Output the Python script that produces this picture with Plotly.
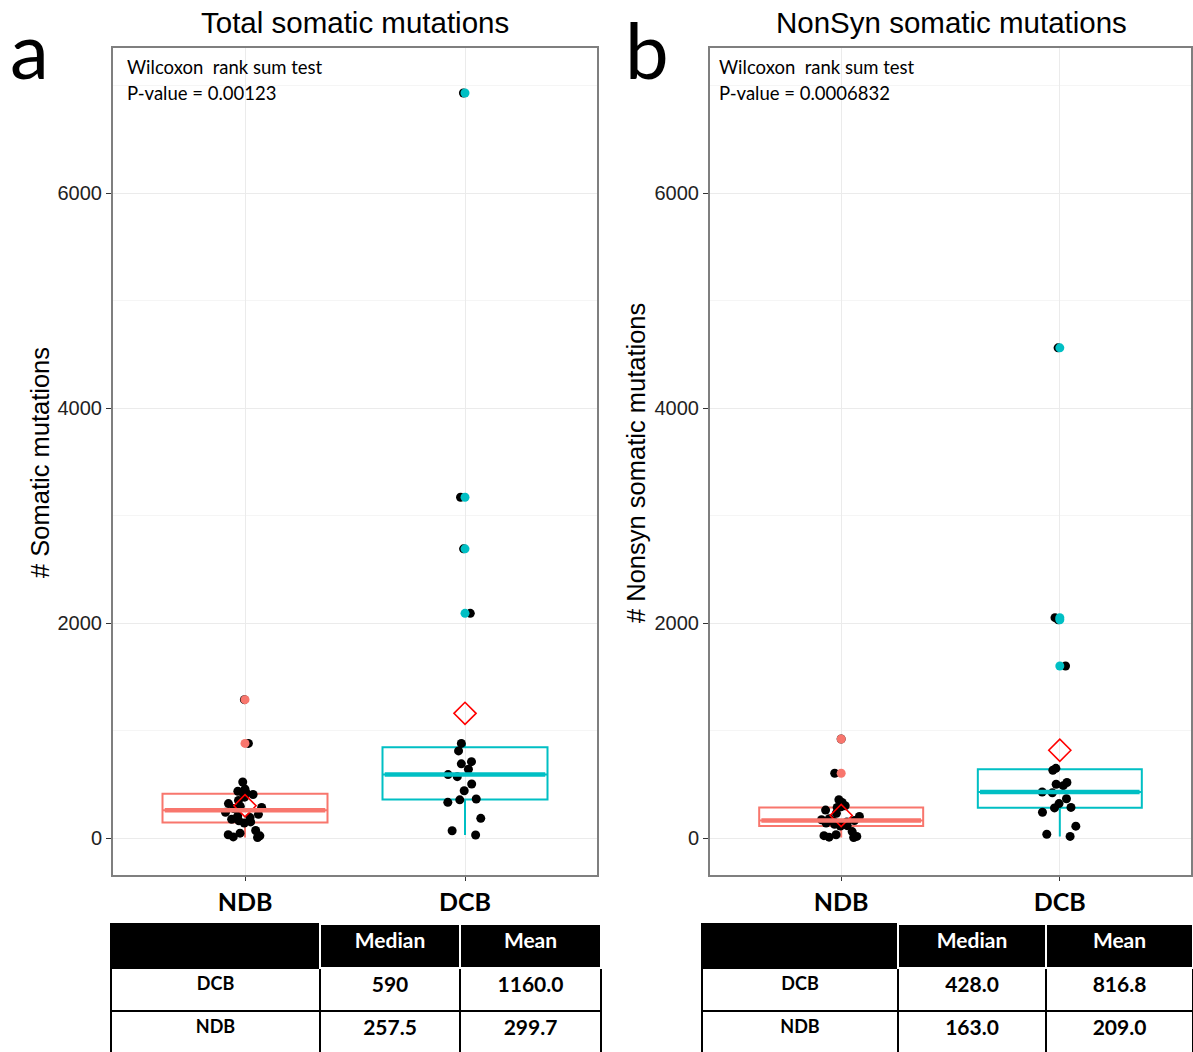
import numpy as np
import plotly.graph_objects as go

# ---------------- data ----------------
groups = ["NDB", "DCB"]
group_colors = {"NDB": "#F8766D", "DCB": "#00BFC4"}

total_ndb = [5, 10, 20, 30, 45, 70, 140, 150, 160, 175, 190, 205, 220, 240,
             275, 285, 295, 320, 350, 380, 405, 420, 425, 435, 455, 521, 880, 1287]
total_dcb = [28, 68, 183, 332, 355, 363, 440, 502, 571, 590, 640, 690, 710, 810,
             880, 2090, 2690, 3170, 6930]
nonsyn_ndb = [5, 8, 15, 22, 30, 60, 111, 115, 128, 140, 150, 155, 163, 170, 180,
              200, 230, 260, 284, 290, 300, 330, 356, 602, 921]
nonsyn_dcb = [15, 35, 110, 240, 280, 285, 320, 365, 420, 428, 487, 500, 516, 630,
              648, 1600, 2030, 2050, 4560]

panel_titles = ["Total somatic mutations", "NonSyn somatic mutations"]
y_titles = ["# Somatic mutations", "# Nonsyn somatic mutations"]
p_values = ["P-value = 0.00123", "P-value = 0.0006832"]
panel_letters = ["a", "b"]

table_header = ["", "Median", "Mean"]
table_rows = ["DCB", "NDB"]
total_median = ["590", "257.5"]
total_mean = ["1160.0", "299.7"]
nonsyn_median = ["428.0", "163.0"]
nonsyn_mean = ["816.8", "209.0"]

W, H = 1193, 1052
def px(x): return x / W
def py(y): return 1 - y / H

panels = [
    dict(data={"NDB": total_ndb, "DCB": total_dcb}, xa="x", ya="y",
         xdom=[px(113), px(597)], tdom=[px(111), px(601)], cw=[209, 140, 141],
         med=total_median, mean=total_mean, letter_x=8, title_x=355,
         ytitle_x=40, wil_x=125),
    dict(data={"NDB": nonsyn_ndb, "DCB": nonsyn_dcb}, xa="x2", ya="y2",
         xdom=[px(710), px(1191)], tdom=[px(702), px(1193)], cw=[196, 148, 147],
         med=nonsyn_median, mean=nonsyn_mean, letter_x=623, title_x=951,
         ytitle_x=636, wil_x=717),
]

fig = go.Figure()
shapes = []
annotations = []
box_w = 0.75

for pi, p in enumerate(panels):
    # boxes (outlier markers hidden here, drawn later on top)
    for gi, g in enumerate(groups):
        vals = p["data"][g]
        col = group_colors[g]
        fig.add_trace(go.Box(
            x=[g] * len(vals), y=vals, xaxis=p["xa"], yaxis=p["ya"],
            width=box_w, quartilemethod="inclusive",
            boxpoints="outliers", pointpos=0, jitter=0,
            marker=dict(color=col, size=1, opacity=0),
            line=dict(color=col, width=2), fillcolor="rgba(0,0,0,0)",
            whiskerwidth=0, showlegend=False, hoverinfo="skip"))
        med = float(np.median(vals))
        shapes.append(dict(type="line", xref=p["xa"], yref=p["ya"],
                           x0=gi - box_w / 2 + 0.01, x1=gi + box_w / 2 - 0.01,
                           y0=med, y1=med, line=dict(color=col, width=4.5)))
    # jittered black points
    for gi, g in enumerate(groups):
        vals = p["data"][g]
        fig.add_trace(go.Box(
            x=[g] * len(vals), y=vals, xaxis=p["xa"], yaxis=p["ya"],
            width=0.22, boxpoints="all", pointpos=0, jitter=1,
            marker=dict(color="black", size=9, line=dict(width=0)),
            line=dict(color="rgba(0,0,0,0)", width=0), fillcolor="rgba(0,0,0,0)",
            showlegend=False, hoverinfo="skip"))
    # coloured outliers at the centre
    for gi, g in enumerate(groups):
        vals = p["data"][g]
        col = group_colors[g]
        fig.add_trace(go.Box(
            x=[g] * len(vals), y=vals, xaxis=p["xa"], yaxis=p["ya"],
            width=box_w, quartilemethod="inclusive",
            boxpoints="outliers", pointpos=0, jitter=0,
            marker=dict(color=col, size=9, line=dict(width=0)),
            line=dict(color="rgba(0,0,0,0)", width=0), fillcolor="rgba(0,0,0,0)",
            showlegend=False, hoverinfo="skip"))
    # mean diamonds
    for gi, g in enumerate(groups):
        vals = p["data"][g]
        fig.add_trace(go.Scatter(
            x=[g], y=[float(np.mean(vals))], xaxis=p["xa"], yaxis=p["ya"],
            mode="markers",
            marker=dict(symbol="diamond-open", size=17, color="#FF0000",
                        line=dict(width=1.6, color="#FF0000")),
            showlegend=False, hoverinfo="skip"))

    # table
    fig.add_trace(go.Table(
        domain=dict(x=p["tdom"], y=[0, py(924)]),
        columnwidth=p["cw"],
        header=dict(values=table_header, fill_color="black",
                    line=dict(color=["black", "white", "white"], width=1.5),
                    font=dict(family="Lato", size=21, color="white", weight="bold"),
                    align="center", height=44),
        cells=dict(values=[table_rows, p["med"], p["mean"]],
                   fill_color="white", line=dict(color="black", width=2),
                   font=dict(family="Lato", size=[18, 21, 21], color="black",
                             weight="bold"),
                   align="center", height=43)))

    ax = dict(domain=p["xdom"], type="category", range=[-0.6, 1.6],
              categoryorder="array", categoryarray=groups,
              showgrid=True, gridcolor="#EBEBEB", gridwidth=1,
              showline=True, mirror=True, linecolor="#7F7F7F", linewidth=2,
              ticks="outside", ticklen=4, tickcolor="#333333",
              tickfont=dict(family="Lato", size=25, color="black", weight="bold"),
              zeroline=False, anchor=p["ya"])
    ay = dict(domain=[py(875), py(48)], range=[-344, 7349],
              tickmode="linear", tick0=0, dtick=2000,
              showgrid=True, gridcolor="#EBEBEB", gridwidth=1,
              minor=dict(dtick=1000, tick0=0, showgrid=True,
                         gridcolor="#F5F5F5", gridwidth=0.8),
              showline=True, mirror=True, linecolor="#7F7F7F", linewidth=2,
              ticks="outside", ticklen=5, tickcolor="#333333",
              tickfont=dict(family="Liberation Sans", size=20, color="#222222"),
              zeroline=False, anchor=p["xa"])
    suffix = "" if pi == 0 else "2"
    fig.update_layout(**{"xaxis" + suffix: ax, "yaxis" + suffix: ay})

    annotations += [
        dict(text=panel_letters[pi], x=px(p["letter_x"]), y=py(49),
             xref="paper", yref="paper", xanchor="left", yanchor="middle",
             showarrow=False, font=dict(family="Lato", size=78, color="black")),
        dict(text=panel_titles[pi], x=px(p["title_x"]), y=py(22),
             xref="paper", yref="paper", xanchor="center", yanchor="middle",
             showarrow=False, font=dict(family="Liberation Sans", size=29.5, color="black")),
        dict(text=y_titles[pi], x=px(p["ytitle_x"]), y=py(463), textangle=-90,
             xref="paper", yref="paper", xanchor="center", yanchor="middle",
             showarrow=False, font=dict(family="Liberation Sans", size=25.5, color="black")),
        dict(text="Wilcoxon  rank sum test", x=px(p["wil_x"]), y=py(67),
             xref="paper", yref="paper", xanchor="left", yanchor="middle",
             showarrow=False, font=dict(family="Lato", size=18.5, color="black")),
        dict(text=p_values[pi], x=px(p["wil_x"]), y=py(93),
             xref="paper", yref="paper", xanchor="left", yanchor="middle",
             showarrow=False, font=dict(family="Lato", size=18.5, color="black")),
    ]

fig.update_layout(width=W, height=H, margin=dict(l=0, r=0, t=0, b=0),
                  paper_bgcolor="white", plot_bgcolor="white",
                  boxmode="overlay", showlegend=False,
                  shapes=shapes, annotations=annotations)

fig.write_html("out.html")
